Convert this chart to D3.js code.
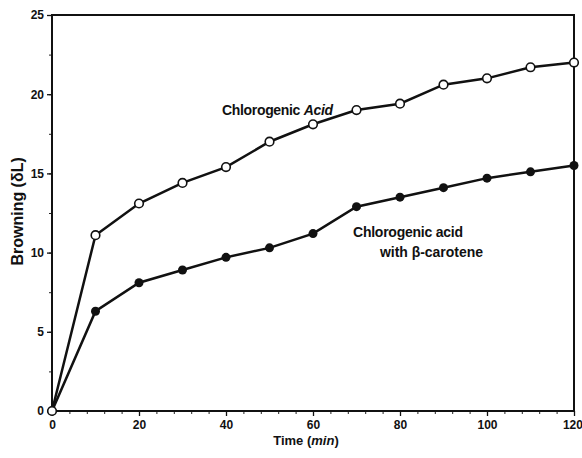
<!DOCTYPE html>
<head>
    <meta charset="utf-8">
    <script src="https://d3js.org/d3.v7.min.js"></script>
    <style>
        body {
            margin: 0;
            background: #fff;
            font-family: "Liberation Sans", Arial, sans-serif;
        }
        .tick text {
            font-size: 12px;
            font-weight: bold;
            fill: #111;
        }
        text.lbl {
            font-size: 14px;
            font-weight: bold;
            fill: #111;
        }
    </style>
</head>
<body>
    <div id="chart"></div>
    <script>
        // data
        var times = [0, 10, 20, 30, 40, 50, 60, 70, 80, 90, 100, 110, 120];
        var acid = [0, 11.1, 13.1, 14.4, 15.4, 17.0, 18.1, 19.0, 19.4, 20.6, 21.0, 21.7, 22.0];
        var acidCarotene = [0, 6.3, 8.1, 8.9, 9.7, 10.3, 11.2, 12.9, 13.5, 14.1, 14.7, 15.1, 15.5];
        var xTicks = [0, 20, 40, 60, 80, 100, 120];
        var yTicks = [0, 5, 10, 15, 20, 25];

        var width = 582, height = 458;
        var margin = { top: 15, right: 8, bottom: 47, left: 52 };

        var svg = d3.select("#chart").append("svg")
            .attr("width", width)
            .attr("height", height);

        var x = d3.scaleLinear().domain([0, 120]).range([margin.left, width - margin.right]);
        var y = d3.scaleLinear().domain([0, 25]).range([height - margin.bottom, margin.top]);

        // minor ticks
        svg.append("g")
            .attr("transform", `translate(0, ${y(0)})`)
            .call(d3.axisBottom(x).tickValues(d3.range(0, 121, 4)).tickSize(3).tickFormat(""))
            .call(g => g.select(".domain").remove())
            .selectAll("line").attr("stroke", "#222");

        svg.append("g")
            .attr("transform", `translate(${x(0)}, 0)`)
            .call(d3.axisLeft(y).tickValues(d3.range(0, 25.1, 2.5)).tickSize(3).tickFormat(""))
            .call(g => g.select(".domain").remove())
            .selectAll("line").attr("stroke", "#222");

        // major axes
        var xAxisG = svg.append("g")
            .attr("transform", `translate(0, ${y(0)})`)
            .call(d3.axisBottom(x).tickValues(xTicks).tickSize(5).tickPadding(4))
            .call(g => g.select(".domain").remove());
        xAxisG.selectAll("line").attr("stroke", "#111").attr("stroke-width", 1.3);
        // last label would run off the page edge
        xAxisG.selectAll(".tick text")
            .filter(d => d == 120)
            .attr("text-anchor", "end")
            .attr("dx", "0.7em");

        svg.append("g")
            .attr("transform", `translate(${x(0)}, 0)`)
            .call(d3.axisLeft(y).tickValues(yTicks).tickSize(5).tickPadding(3))
            .call(g => g.select(".domain").remove())
            .selectAll("line").attr("stroke", "#111").attr("stroke-width", 1.3);

        // frame
        svg.append("rect")
            .attr("x", x(0))
            .attr("y", y(25))
            .attr("width", x(120) - x(0))
            .attr("height", y(0) - y(25))
            .attr("fill", "none")
            .attr("stroke", "#111")
            .attr("stroke-width", 2);

        var line = d3.line()
            .x(d => x(d[0]))
            .y(d => y(d[1]));

        var s1 = times.map((t, i) => [t, acid[i]]);
        var s2 = times.map((t, i) => [t, acidCarotene[i]]);

        [s2, s1].forEach(function(s) {
            svg.append("path")
                .datum(s)
                .attr("d", line)
                .attr("fill", "none")
                .attr("stroke", "#111")
                .attr("stroke-width", 2.5);
        });

        svg.selectAll("circle.filled")
            .data(s2)
            .enter()
            .append("circle")
            .attr("class", "filled")
            .attr("cx", d => x(d[0]))
            .attr("cy", d => y(d[1]))
            .attr("r", 4.5)
            .attr("fill", "#111");

        svg.selectAll("circle.open")
            .data(s1)
            .enter()
            .append("circle")
            .attr("class", "open")
            .attr("cx", d => x(d[0]))
            .attr("cy", d => y(d[1]))
            .attr("r", 4.3)
            .attr("fill", "#fff")
            .attr("stroke", "#111")
            .attr("stroke-width", 1.6);

        // series labels
        svg.append("text")
            .attr("class", "lbl")
            .attr("x", 222)
            .attr("y", 115)
            .attr("textLength", 111)
            .html('Chlorogenic <tspan font-style="italic">Acid</tspan>');

        svg.append("text")
            .attr("class", "lbl")
            .attr("x", 353)
            .attr("y", 237)
            .attr("textLength", 110)
            .text("Chlorogenic acid");

        svg.append("text")
            .attr("class", "lbl")
            .attr("x", 380)
            .attr("y", 257)
            .attr("textLength", 103)
            .text("with β-carotene");

        // axis titles
        svg.append("text")
            .attr("class", "lbl")
            .attr("transform", `translate(23, ${y(12.6)}) rotate(-90)`)
            .style("text-anchor", "middle")
            .style("font-size", "16px")
            .text("Browning (δL)");

        svg.append("text")
            .attr("class", "lbl")
            .attr("x", 306)
            .attr("y", 445)
            .style("text-anchor", "middle")
            .style("font-size", "13px")
            .html('Time (<tspan font-style="italic">min</tspan>)');
    </script>
</body>
